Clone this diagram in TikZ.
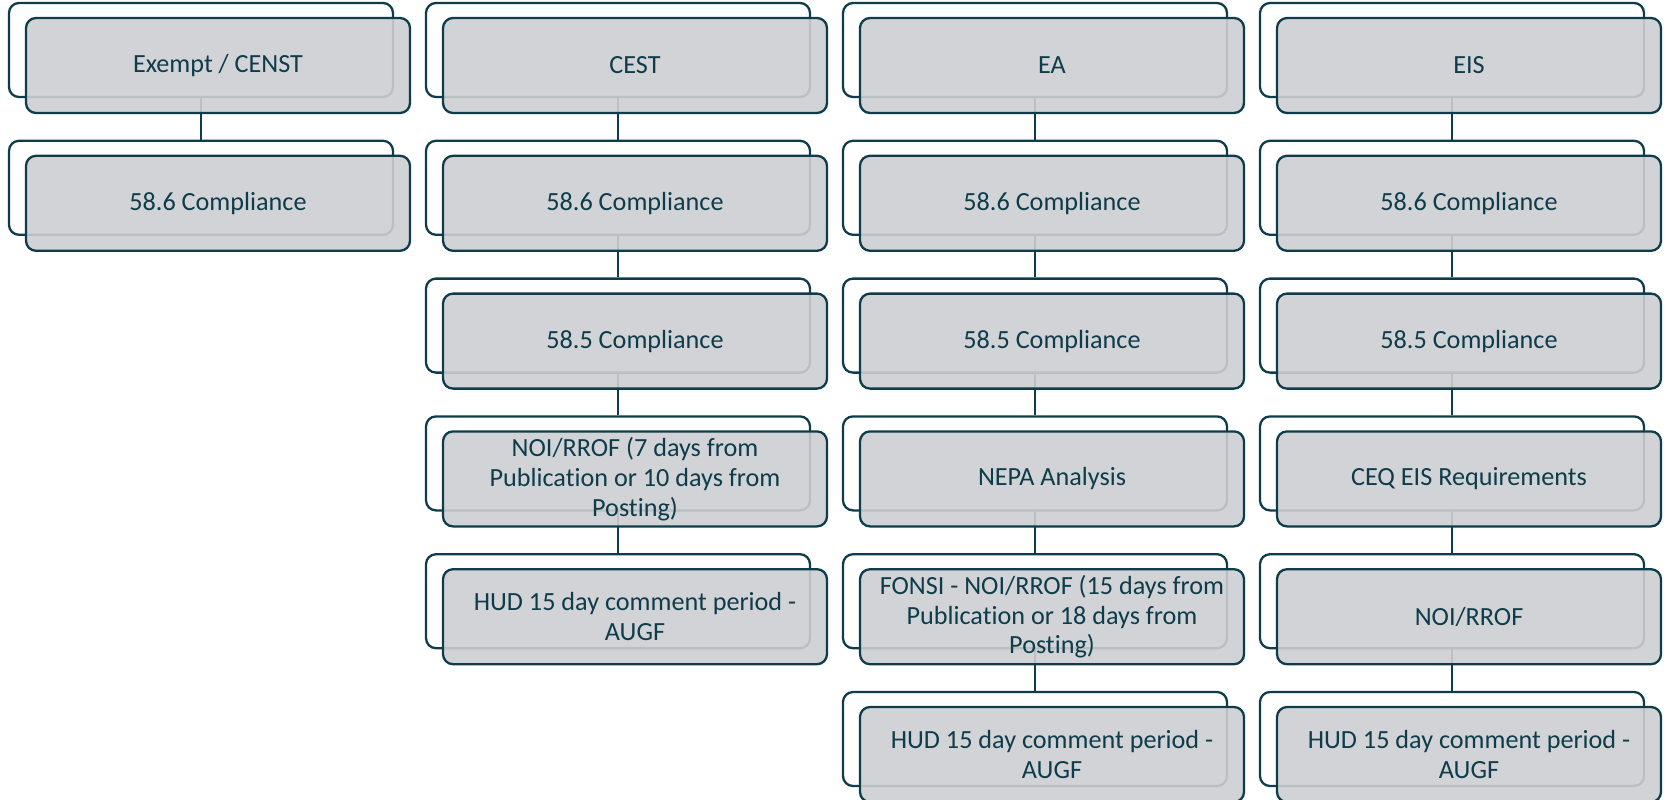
\documentclass[tikz,border=0pt]{standalone}
\usepackage{fontspec}
\setmainfont{Carlito}[Ligatures=NoCommon]
\usepackage{tikz}
\usepackage{xcolor}
\usetikzlibrary{positioning}
\definecolor{cardline}{RGB}{14,60,74}
\definecolor{cardfill}{RGB}{204,206,209}
\tikzstyle{backcard}  = [rectangle, rounded corners=0.2cm, minimum width=7.68cm, minimum height=1.88cm, draw=cardline, line width=1.3pt]
\tikzstyle{frontcard} = [rectangle, rounded corners=0.2cm, minimum width=7.68cm, minimum height=1.9cm, inner sep=0pt, align=center, draw=cardline, line width=1.3pt, fill=cardfill, fill opacity=0.9, text opacity=1, text=cardline, font=\fontsize{14.9}{17}\selectfont]
\tikzstyle{link}      = [draw=cardline, line width=1.3pt]

\begin{document}
\begin{tikzpicture}[node distance=2.756cm]
\useasboundingbox (0,0) rectangle (33.36,-15.98);

% back cards
\node (exemptbk)    [backcard] at (4.02,-1.0) {};
\node (exempt586bk) [backcard, below of=exemptbk] {};

\node (cestbk)      [backcard] at (12.36,-1.0) {};
\node (cest586bk)   [backcard, below of=cestbk] {};
\node (cest585bk)   [backcard, below of=cest586bk] {};
\node (cestnoibk)   [backcard, below of=cest585bk] {};
\node (cesthudbk)   [backcard, below of=cestnoibk] {};

\node (eabk)        [backcard] at (20.70,-1.0) {};
\node (ea586bk)     [backcard, below of=eabk] {};
\node (ea585bk)     [backcard, below of=ea586bk] {};
\node (eanepabk)    [backcard, below of=ea585bk] {};
\node (eafonsibk)   [backcard, below of=eanepabk] {};
\node (eahudbk)     [backcard, below of=eafonsibk] {};

\node (eisbk)       [backcard] at (29.04,-1.0) {};
\node (eis586bk)    [backcard, below of=eisbk] {};
\node (eis585bk)    [backcard, below of=eis586bk] {};
\node (eisceqbk)    [backcard, below of=eis585bk] {};
\node (eisnoibk)    [backcard, below of=eisceqbk] {};
\node (eishudbk)    [backcard, below of=eisnoibk] {};

% connectors
\draw [link] (exemptbk)  -- (exempt586bk);
\draw [link] (cestbk)    -- (cest586bk);
\draw [link] (cest586bk) -- (cest585bk);
\draw [link] (cest585bk) -- (cestnoibk);
\draw [link] (cestnoibk) -- (cesthudbk);
\draw [link] (eabk)      -- (ea586bk);
\draw [link] (ea586bk)   -- (ea585bk);
\draw [link] (ea585bk)   -- (eanepabk);
\draw [link] (eanepabk)  -- (eafonsibk);
\draw [link] (eafonsibk) -- (eahudbk);
\draw [link] (eisbk)     -- (eis586bk);
\draw [link] (eis586bk)  -- (eis585bk);
\draw [link] (eis585bk)  -- (eisceqbk);
\draw [link] (eisceqbk)  -- (eisnoibk);
\draw [link] (eisnoibk)  -- (eishudbk);

% front cards
\node (exempt)    [frontcard, xshift=0.34cm, yshift=-0.31cm] at (exemptbk.center)    {Exempt / CENST};
\node (exempt586) [frontcard, xshift=0.34cm, yshift=-0.31cm] at (exempt586bk.center) {58.6 Compliance};

\node (cest)      [frontcard, xshift=0.34cm, yshift=-0.31cm] at (cestbk.center)    {CEST};
\node (cest586)   [frontcard, xshift=0.34cm, yshift=-0.31cm] at (cest586bk.center) {58.6 Compliance};
\node (cest585)   [frontcard, xshift=0.34cm, yshift=-0.31cm] at (cest585bk.center) {58.5 Compliance};
\node (cestnoi)   [frontcard, xshift=0.34cm, yshift=-0.31cm] at (cestnoibk.center) {NOI/RROF (7 days from\\Publication or 10 days from\\Posting)};
\node (cesthud)   [frontcard, xshift=0.34cm, yshift=-0.31cm] at (cesthudbk.center) {HUD 15 day comment period -\\AUGF};

\node (ea)        [frontcard, xshift=0.34cm, yshift=-0.31cm] at (eabk.center)      {EA};
\node (ea586)     [frontcard, xshift=0.34cm, yshift=-0.31cm] at (ea586bk.center)   {58.6 Compliance};
\node (ea585)     [frontcard, xshift=0.34cm, yshift=-0.31cm] at (ea585bk.center)   {58.5 Compliance};
\node (eanepa)    [frontcard, xshift=0.34cm, yshift=-0.31cm] at (eanepabk.center)  {NEPA Analysis};
\node (eafonsi)   [frontcard, xshift=0.34cm, yshift=-0.31cm] at (eafonsibk.center) {FONSI - NOI/RROF (15 days from\\Publication or 18 days from\\Posting)};
\node (eahud)     [frontcard, xshift=0.34cm, yshift=-0.31cm] at (eahudbk.center)   {HUD 15 day comment period -\\AUGF};

\node (eis)       [frontcard, xshift=0.34cm, yshift=-0.31cm] at (eisbk.center)     {EIS};
\node (eis586)    [frontcard, xshift=0.34cm, yshift=-0.31cm] at (eis586bk.center)  {58.6 Compliance};
\node (eis585)    [frontcard, xshift=0.34cm, yshift=-0.31cm] at (eis585bk.center)  {58.5 Compliance};
\node (eisceq)    [frontcard, xshift=0.34cm, yshift=-0.31cm] at (eisceqbk.center)  {CEQ EIS Requirements};
\node (eisnoi)    [frontcard, xshift=0.34cm, yshift=-0.31cm] at (eisnoibk.center)  {NOI/RROF};
\node (eishud)    [frontcard, xshift=0.34cm, yshift=-0.31cm] at (eishudbk.center)  {HUD 15 day comment period -\\AUGF};

\end{tikzpicture}
\end{document}
